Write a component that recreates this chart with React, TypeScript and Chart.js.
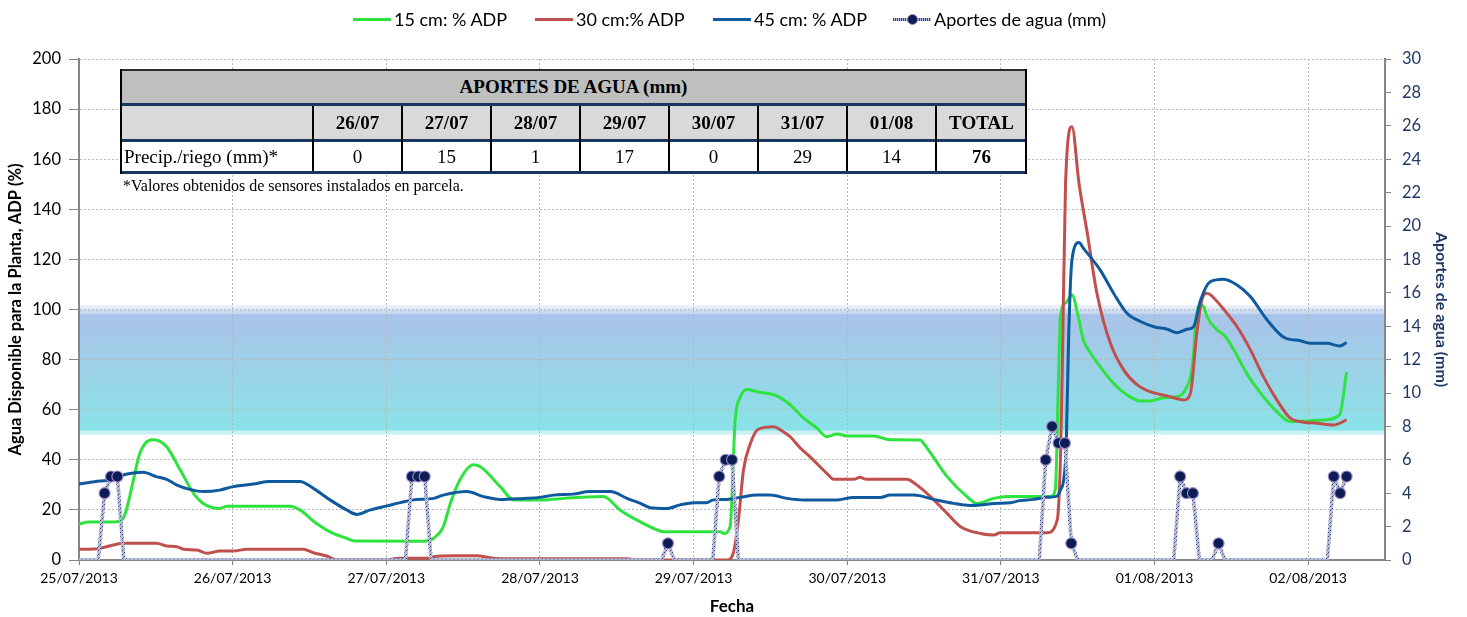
import React, { useEffect, useRef } from 'react';
import { Chart, registerables } from 'chart.js';

Chart.register(...registerables);

// ---------------- DATA ----------------
// x values are hours elapsed since 25/07/2013 00:00
const xTickHours = [0, 24, 48, 72, 96, 120, 144, 168, 192];
const xTickLabels = ['25/07/2013', '26/07/2013', '27/07/2013', '28/07/2013', '29/07/2013', '30/07/2013', '31/07/2013', '01/08/2013', '02/08/2013'];
const xMaxHours = 204;

const leftAxisMax = 200;
const leftAxisStep = 20;
const rightAxisMax = 30;
const rightAxisStep = 2;

// optimal ADP band (%)
const bandRange = [50, 100];

const seriesLabels = ['15 cm: % ADP', '30 cm:% ADP', '45 cm: % ADP', 'Aportes de agua (mm)'];

const adp15: [number, number][] = [
  [0, 14.3], [1.5, 15.2], [5.3, 15.2], [6.7, 16], [7.4, 20], [8.5, 32], [9.5, 42.6], [11.4, 48], [12.5, 47.6],
  [13.7, 45.2], [15.8, 36], [17.9, 26.6], [19.4, 22.6], [22, 20.6], [23.1, 21.5], [33, 21.5], [34.5, 20],
  [37.1, 14.6], [39.7, 10.6], [41.8, 8.7], [43.1, 7.6], [53.8, 7.5], [55.4, 8.7], [56.9, 13.3], [58, 22.6],
  [59.5, 32], [61.6, 38], [62.7, 37.2], [65.8, 29.3], [67.9, 24], [73, 24], [75.7, 24.6], [81.9, 25.3],
  [84.5, 20], [87.1, 16], [90.3, 12], [91.3, 11.3], [100.2, 11.3], [100.7, 10.6], [101.7, 13.3], [102.5, 56],
  [103.3, 65], [104.3, 68.1], [105.9, 67.2], [109, 65.5], [111.1, 61.9], [113.2, 56.6], [115.3, 52.6],
  [116.8, 49.2], [118.4, 50.3], [120, 49.5], [124.1, 49.5], [126.7, 48], [131.4, 47.9], [131.9, 46.6],
  [135.6, 33.3], [138.7, 25.3], [140.3, 22.6], [142.9, 24.6], [145, 25.3], [151.7, 25.3], [152.5, 28],
  [153, 72], [153.3, 97], [154.1, 102.5], [155.1, 105.8], [156.1, 97], [156.9, 87.8], [157.7, 83.8],
  [159.5, 77.2], [161.6, 70.5], [163.7, 65.9], [165.8, 63.5], [167.3, 63.5], [169.4, 64.8], [171.5, 65.2],
  [172.8, 67.9], [173.9, 77.2], [174.6, 98.5], [175.2, 101.8], [175.7, 101], [176.2, 97.1], [177.8, 91.8],
  [179.1, 89.1], [180.4, 83.8], [182.4, 74.5], [185, 65.2], [187.1, 59.2], [189.2, 55.2], [192.3, 55.6],
  [194.3, 55.9], [196.9, 57.9], [198, 75],
];

const adp30: [number, number][] = [
  [0, 4.3], [2.8, 4.5], [4.3, 5.3], [6.9, 6.7], [12.1, 6.7], [13.7, 5.6], [15.3, 5.3], [16.3, 4.3], [18.4, 4],
  [20, 2.7], [22, 3.6], [24.1, 3.6], [26.2, 4.3], [35, 4.3], [36.6, 2.9], [38.7, 1.6], [40.3, 0], [47.6, 0],
  [50.1, 0.7], [54.8, 0.7], [55.4, 1.3], [58.5, 1.7], [62.1, 1.7], [64.7, 0.7], [67, 0.5], [85.6, 0.5],
  [87.1, 0], [101.2, 0], [102.2, 2.7], [103, 16], [103.8, 36], [104.8, 46], [106.1, 52.2], [108.5, 53.2],
  [110, 51.2], [111.1, 49.2], [112.7, 44.6], [114.2, 41.2], [116.8, 34.6], [117.9, 32.2], [121, 32.2],
  [122, 33], [123, 32.2], [129.3, 32.2], [130.9, 29.9], [133, 25.3], [135.6, 18.6], [137.7, 13.3],
  [140.8, 10.6], [142.9, 10], [143.9, 10.9], [151.2, 10.9], [152.8, 16], [153.3, 40], [153.6, 77.2],
  [154.1, 150.4], [155.1, 173], [156.2, 150.4], [157.5, 130.4], [159, 106.5], [161.1, 86.5], [163.2, 75.8],
  [165.3, 69.9], [167.3, 67.2], [170, 65.5], [172.6, 63.9], [173.6, 66.5], [174.6, 90.5], [175.4, 103.8],
  [176.2, 106.5], [177.8, 103.1], [179.3, 98.5], [180.9, 93.1], [183, 83.8], [185, 73.2], [187.1, 63.9],
  [189.2, 56.6], [190.8, 55.2], [193.4, 54.6], [196, 53.9], [198, 55.9],
];

const adp45: [number, number][] = [
  [0, 30.3], [3.3, 31.5], [4.8, 31.9], [7.5, 34.3], [10, 35], [12.1, 33.3], [13.7, 32.2], [15.3, 29.9],
  [17.3, 28.2], [19.4, 27.3], [22, 27.9], [24.1, 29.3], [27.2, 30.3], [29.8, 31.3], [34.5, 31.3], [36.6, 28.6],
  [39.2, 24], [41.8, 20], [43.4, 18.2], [45.5, 20], [48.1, 21.6], [50.2, 22.9], [52.2, 24], [55.4, 24.6],
  [56.9, 25.9], [60.6, 27.3], [63.2, 25.3], [65.8, 24.2], [69.4, 24.6], [72, 25], [74.1, 25.9], [77.2, 26.3],
  [79.8, 27.3], [83, 27.3], [85.6, 24.6], [87.7, 22.6], [89.2, 20.9], [91.8, 20.6], [93.9, 22], [96, 22.9],
  [98, 22.9], [99.1, 24], [101.2, 24.2], [103.3, 25], [105.9, 25.9], [108, 25.9], [110.6, 24.6], [113.2, 24],
  [118.4, 24], [121, 25], [125.2, 25], [126.7, 25.9], [130.4, 25.9], [133.5, 24.2], [136.6, 22.6],
  [139.2, 21.8], [140.8, 22], [142.9, 22.6], [145.5, 22.9], [147, 23.7], [149.1, 24.2], [151.2, 25],
  [152.8, 25.5], [153.3, 28], [153.8, 31.9], [154.2, 45.2], [154.6, 90.5], [155.1, 119.8], [156.2, 126.7],
  [156.9, 124.4], [159.5, 115.8], [161.6, 106.5], [163.7, 98.5], [165.8, 95.2], [167.9, 93.1], [170, 92.1],
  [171.5, 90.7], [173.1, 92.1], [174.1, 93.1], [175.2, 103.8], [176.7, 111.1], [178.8, 112.1], [180.9, 109.8],
  [183, 105.1], [185.6, 95.8], [188.2, 88.9], [190.8, 87.5], [192.3, 86.5], [194.9, 86.5], [196.9, 85.4],
  [198, 86.8],
];

// hourly water inputs (mm), zero between listed points
const aportes: [number, number][] = [
  [0, 0], [3, 0], [4, 4], [5, 5], [6, 5], [7, 0],
  [51, 0], [52, 5], [53, 5], [54, 5], [55, 0],
  [91, 0], [92, 1], [93, 0],
  [99, 0], [100, 5], [101, 6], [102, 6], [103, 0],
  [150, 0], [151, 6], [152, 8], [153, 7], [154, 7], [155, 1], [156, 0],
  [171, 0], [172, 5], [173, 4], [174, 4], [175, 0],
  [177, 0], [178, 1], [179, 0],
  [195, 0], [196, 5], [197, 4], [198, 5],
];

// summary table
const tableTitle = 'APORTES DE AGUA (mm)';
const tableDays = ['26/07', '27/07', '28/07', '29/07', '30/07', '31/07', '01/08'];
const tableValues = [0, 15, 1, 17, 0, 29, 14];
const tableRowLabel = 'Precip./riego (mm)*';
const tableTotalLabel = 'TOTAL';
const footnote = '*Valores obtenidos de sensores instalados en parcela.';

// ---------------- STYLE / LAYOUT ----------------
const W = 1467;
const H = 617;
const COLORS = {
  green: '#2FE33F',
  red: '#C0504D',
  blue: '#0F5A9E',
  navy: '#1F3864',
  axis: '#868686',
  grid: '#B8B8B8',
  markerFill: '#0C1C55',
  markerBorder: '#9C88C6',
};
const FONT = 'Lato, "Open Sans", sans-serif';
const SERIF = '"Liberation Serif", "DejaVu Serif", serif';

const legendLayout = [353, 535, 713, 893];
const colEdges = [120, 313, 402, 491, 580, 669, 758, 847, 936, 1027];
const tableTop = 70;

const toXY = (arr: [number, number][]) => arr.map(([x, y]) => ({ x, y }));

function makePattern(): CanvasPattern | string {
  const c = document.createElement('canvas');
  c.width = 4;
  c.height = 4;
  const g = c.getContext('2d');
  if (!g) return '#8D96BF';
  g.fillStyle = '#B7BCD8';
  g.fillRect(0, 0, 4, 4);
  g.fillStyle = '#33407A';
  g.fillRect(0, 0, 1, 1);
  g.fillRect(2, 2, 1, 1);
  g.fillStyle = '#8A93BC';
  g.fillRect(1, 3, 1, 1);
  g.fillRect(3, 1, 1, 1);
  const p = g.createPattern(c, 'repeat');
  return p || '#8D96BF';
}

const bandPlugin = {
  id: 'adpBand',
  beforeDraw(chart: any) {
    const { ctx, chartArea, scales } = chart;
    const yTop = scales.y.getPixelForValue(bandRange[1]);
    const yBot = scales.y.getPixelForValue(bandRange[0]);
    const l = chartArea.left;
    const w = chartArea.right - chartArea.left;
    ctx.save();
    ctx.fillStyle = 'rgba(220,228,246,0.7)';
    ctx.fillRect(l, yTop - 4, w, 4);
    ctx.fillStyle = 'rgba(196,214,242,0.9)';
    ctx.fillRect(l, yTop, w, 4);
    ctx.fillStyle = 'rgba(196,238,242,0.9)';
    ctx.fillRect(l, yBot - 4, w, 4);
    const g = ctx.createLinearGradient(0, yTop + 4, 0, yBot - 4);
    g.addColorStop(0, '#AAC3EA');
    g.addColorStop(0.5, '#9BD2E7');
    g.addColorStop(1, '#89E3E8');
    ctx.fillStyle = g;
    ctx.fillRect(l, yTop + 4, w, yBot - yTop - 8);
    ctx.restore();
  },
};

export default function App() {
  const ref = useRef<HTMLCanvasElement>(null);

  useEffect(() => {
    document.body.style.margin = '0';
    const canvas = ref.current;
    if (!canvas) return;
    Chart.defaults.font.family = FONT;
    const pattern = makePattern();
    const chart = new Chart(canvas, {
      type: 'line',
      data: {
        datasets: [
          {
            label: seriesLabels[3],
            data: toXY(aportes),
            yAxisID: 'y1',
            borderColor: pattern as any,
            borderWidth: 3.5,
            tension: 0,
            pointRadius: (c: any) => (c.raw && c.raw.y > 0 ? 5.5 : 0),
            pointHoverRadius: 0,
            pointBackgroundColor: COLORS.markerFill,
            pointBorderColor: COLORS.markerBorder,
            pointBorderWidth: 1.2,
            order: 0,
          },
          {
            label: seriesLabels[2],
            data: toXY(adp45),
            yAxisID: 'y',
            borderColor: COLORS.blue,
            borderWidth: 3,
            pointRadius: 0,
            cubicInterpolationMode: 'monotone',
            order: 1,
          },
          {
            label: seriesLabels[1],
            data: toXY(adp30),
            yAxisID: 'y',
            borderColor: COLORS.red,
            borderWidth: 3,
            pointRadius: 0,
            cubicInterpolationMode: 'monotone',
            order: 2,
          },
          {
            label: seriesLabels[0],
            data: toXY(adp15),
            yAxisID: 'y',
            borderColor: COLORS.green,
            borderWidth: 3,
            pointRadius: 0,
            cubicInterpolationMode: 'monotone',
            order: 3,
          },
        ],
      },
      options: {
        animation: false,
        responsive: false,
        events: [],
        layout: { padding: { top: 59, left: 0, right: 0, bottom: 0 } },
        plugins: { legend: { display: false }, tooltip: { enabled: false } },
        scales: {
          x: {
            type: 'linear',
            min: 0,
            max: xMaxHours,
            afterBuildTicks: (s: any) => {
              s.ticks = xTickHours.map((v) => ({ value: v }));
            },
            afterFit: (s: any) => {
              s.height = 57;
            },
            ticks: {
              callback: (_v: any, i: number) => xTickLabels[i] ?? '',
              font: { size: 14 },
              color: '#000',
              padding: 5,
              maxRotation: 0,
              autoSkip: false,
            },
            grid: { color: COLORS.grid, lineWidth: 1, tickColor: COLORS.axis, tickLength: 5 },
            border: { color: COLORS.axis, width: 2, dash: [2, 2] },
            title: {
              display: true,
              text: 'Fecha',
              font: { size: 17, weight: 'bold' },
              color: '#000',
              padding: { top: 0, bottom: 0 },
            },
          },
          y: {
            position: 'left',
            min: 0,
            max: leftAxisMax,
            afterFit: (s: any) => {
              s.width = 79;
            },
            ticks: { stepSize: leftAxisStep, font: { size: 16.5 }, color: '#000', padding: 8 },
            grid: { color: COLORS.grid, lineWidth: 1, tickColor: COLORS.axis, tickLength: 10 },
            border: { color: COLORS.axis, width: 2, dash: [2, 2] },
            title: {
              display: true,
              text: 'Agua Disponible para la Planta, ADP (%)',
              font: { size: 16.5, weight: 'bold' },
              color: '#000',
              padding: { top: 6, bottom: 0 },
            },
          },
          y1: {
            position: 'right',
            min: 0,
            max: rightAxisMax,
            afterFit: (s: any) => {
              s.width = 82;
            },
            ticks: { stepSize: rightAxisStep, font: { size: 16.5 }, color: COLORS.navy, padding: 11 },
            grid: { drawOnChartArea: false, tickColor: COLORS.axis, tickLength: 6 },
            border: { color: COLORS.axis, width: 2 },
            title: {
              display: true,
              text: 'Aportes de agua (mm)',
              font: { size: 16, weight: 'bold' },
              color: COLORS.navy,
              padding: { top: 16, bottom: 0 },
            },
          },
        },
      } as any,
      plugins: [bandPlugin],
    });
    return () => chart.destroy();
  }, []);

  const legendColors = [COLORS.green, COLORS.red, COLORS.blue];
  const total = tableValues.reduce((a, b) => a + b, 0);

  const rows = [
    { top: tableTop, h: 33 },
    { top: tableTop + 36, h: 33 },
    { top: tableTop + 72, h: 29 },
  ];
  const sepTops = [tableTop + 33, tableTop + 69, tableTop + 101];

  const cellText = (
    key: string,
    left: number,
    right: number,
    row: { top: number; h: number },
    text: string,
    bold: boolean,
    align: 'center' | 'left' = 'center'
  ) => (
    <div
      key={key}
      style={{
        position: 'absolute',
        left,
        top: row.top,
        width: right - left,
        height: row.h,
        lineHeight: row.h + 'px',
        textAlign: align,
        paddingLeft: align === 'left' ? 4 : 0,
        boxSizing: 'border-box',
        fontFamily: SERIF,
        fontSize: 19,
        fontWeight: bold ? 'bold' : 'normal',
        color: '#000',
        whiteSpace: 'nowrap',
      }}
    >
      {text}
    </div>
  );

  const tLeft = colEdges[0];
  const tRight = colEdges[colEdges.length - 1];

  return (
    <div style={{ position: 'relative', width: W, height: H, overflow: 'hidden', background: '#fff' }}>
      <canvas ref={ref} width={W} height={H} style={{ position: 'absolute', left: 0, top: 0, width: W, height: H }} />

      {/* legend */}
      {seriesLabels.map((lab, i) => (
        <div
          key={lab}
          style={{
            position: 'absolute',
            left: legendLayout[i],
            top: 8,
            height: 22,
            display: 'flex',
            alignItems: 'center',
            fontFamily: FONT,
            fontSize: 18,
            color: '#000',
            whiteSpace: 'nowrap',
          }}
        >
          <div style={{ position: 'relative', width: 38, height: 12, marginRight: 3 }}>
            {i < 3 ? (
              <div style={{ position: 'absolute', left: 0, top: 4.5, width: 38, height: 3, background: legendColors[i] }} />
            ) : (
              <>
                <div
                  style={{
                    position: 'absolute',
                    left: 0,
                    top: 4.5,
                    width: 38,
                    height: 3,
                    background: 'repeating-linear-gradient(90deg, #33407A 0 1px, #B7BCD8 1px 2px)',
                  }}
                />
                <div
                  style={{
                    position: 'absolute',
                    left: 14,
                    top: 0.5,
                    width: 9,
                    height: 9,
                    borderRadius: '50%',
                    background: COLORS.markerFill,
                    border: '1.2px solid ' + COLORS.markerBorder,
                  }}
                />
              </>
            )}
          </div>
          <span>{lab}</span>
        </div>
      ))}

      {/* table backgrounds */}
      <div style={{ position: 'absolute', left: tLeft, top: rows[0].top, width: tRight - tLeft, height: rows[0].h, background: '#BFBFBF' }} />
      <div style={{ position: 'absolute', left: tLeft, top: rows[1].top, width: tRight - tLeft, height: rows[1].h, background: '#D9D9D9' }} />
      <div style={{ position: 'absolute', left: tLeft, top: rows[2].top, width: tRight - tLeft, height: rows[2].h, background: '#FFFFFF' }} />
      <div style={{ position: 'absolute', left: tLeft, top: tableTop - 1, width: tRight - tLeft, height: 2, background: '#2B2B2B' }} />
      {sepTops.map((t, i) => (
        <div key={'sep' + i} style={{ position: 'absolute', left: tLeft, top: t, width: tRight - tLeft, height: 3, background: '#17375E' }} />
      ))}
      <div style={{ position: 'absolute', left: tLeft, top: tableTop - 1, width: 2, height: 105, background: '#000' }} />
      <div style={{ position: 'absolute', left: tRight - 2, top: tableTop - 1, width: 2, height: 105, background: '#000' }} />
      {colEdges.slice(1, -1).map((x) => (
        <div key={'v' + x} style={{ position: 'absolute', left: x - 1, top: rows[1].top, width: 2, height: rows[2].top + rows[2].h - rows[1].top, background: '#000' }} />
      ))}

      {/* table texts */}
      {cellText('title', tLeft, tRight, rows[0], tableTitle, true)}
      {tableDays.map((d, i) => cellText('d' + i, colEdges[i + 1], colEdges[i + 2], rows[1], d, true))}
      {cellText('dt', colEdges[8], colEdges[9], rows[1], tableTotalLabel, true)}
      {cellText('rl', colEdges[0], colEdges[1], rows[2], tableRowLabel, false, 'left')}
      {tableValues.map((v, i) => cellText('v' + i, colEdges[i + 1], colEdges[i + 2], rows[2], String(v), false))}
      {cellText('vt', colEdges[8], colEdges[9], rows[2], String(total), true)}

      <div
        style={{
          position: 'absolute',
          left: 123,
          top: 177,
          lineHeight: '18px',
          fontFamily: SERIF,
          fontSize: 16,
          color: '#000',
          whiteSpace: 'nowrap',
        }}
      >
        {footnote}
      </div>
    </div>
  );
}
